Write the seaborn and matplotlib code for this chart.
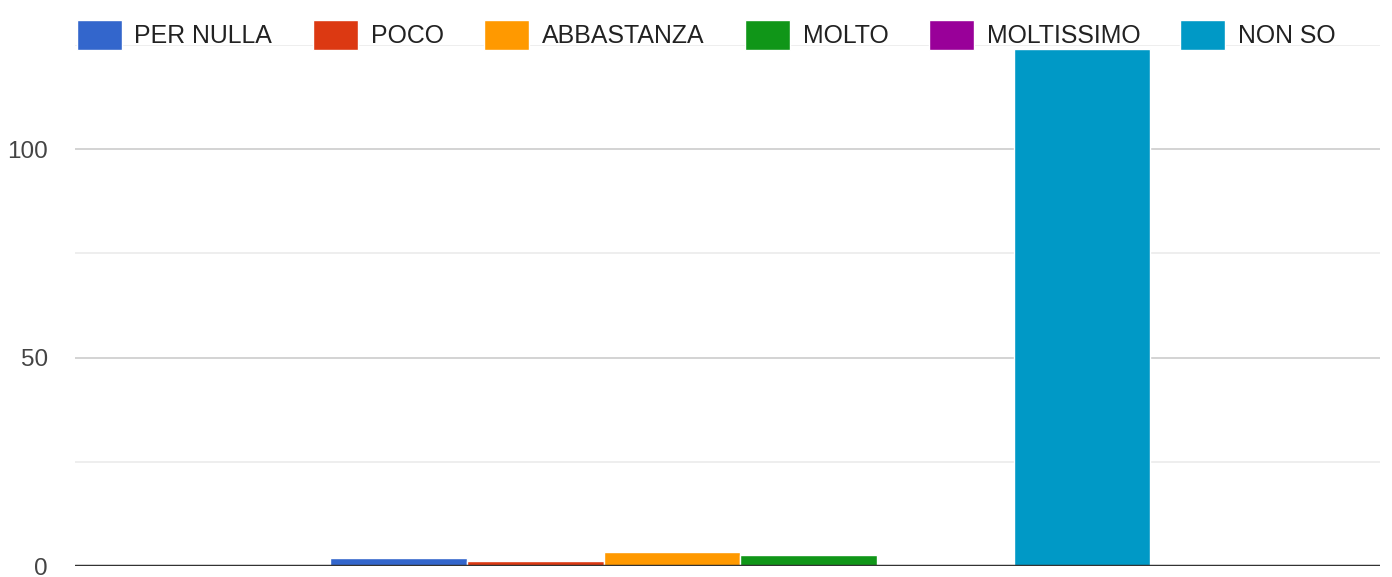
import matplotlib
matplotlib.use("Agg")
import matplotlib.pyplot as plt
import seaborn as sns
import pandas as pd

# answers and counts
answers = ["PER NULLA", "POCO", "ABBASTANZA", "MOLTO", "MOLTISSIMO", "NON SO"]
counts = [2.0, 1.1, 3.4, 2.7, 0, 124]
colors = ["#3366cc", "#dc3912", "#ff9900", "#109618", "#990099", "#0099c6"]
y_ticks = [0, 50, 100]

df = pd.DataFrame({"group": [""] * len(answers), "answer": answers, "count": counts})

sns.set_style("white")
plt.rcParams["font.family"] = ["Liberation Sans", "DejaVu Sans"]

fig = plt.figure(figsize=(13.92, 5.77), dpi=100)
ax = fig.add_axes([0.054, 0.019, 0.9374, 0.903])

# light minor gridlines, darker major ones
for v in [25, 75, 125]:
    ax.axhline(v, color="#ebebeb", lw=1.2, zorder=0)
for v in [50, 100]:
    ax.axhline(v, color="#cccccc", lw=1.2, zorder=0)

sns.barplot(data=df, x="group", y="count", hue="answer", hue_order=answers,
            palette=colors, ax=ax, width=0.8, edgecolor="white", linewidth=1.0,
            saturation=1, zorder=2)

ax.axhline(0, color="#333333", lw=2.5, zorder=3)
ax.set_xlim(-0.649, 0.624)
ax.set_ylim(0, 125)
ax.set_yticks(y_ticks)
ax.set_yticklabels([str(t) for t in y_ticks], fontsize=17.5, color="#444444")
ax.tick_params(axis="y", length=0, pad=19.5)
ax.set_xticks([])
ax.set_xlabel("")
ax.set_ylabel("")
for s in ax.spines.values():
    s.set_visible(False)

handles, labels = ax.get_legend_handles_labels()
ax.legend(handles, labels, ncol=6, loc="center left", bbox_to_anchor=(0.055, 0.939),
          bbox_transform=fig.transFigure, frameon=False, fontsize=17.9,
          handlelength=1.81, handleheight=1.45, handletextpad=0.52,
          columnspacing=1.62, labelcolor="#222222", borderaxespad=0, borderpad=0)

fig.savefig("out.png", dpi=100)
